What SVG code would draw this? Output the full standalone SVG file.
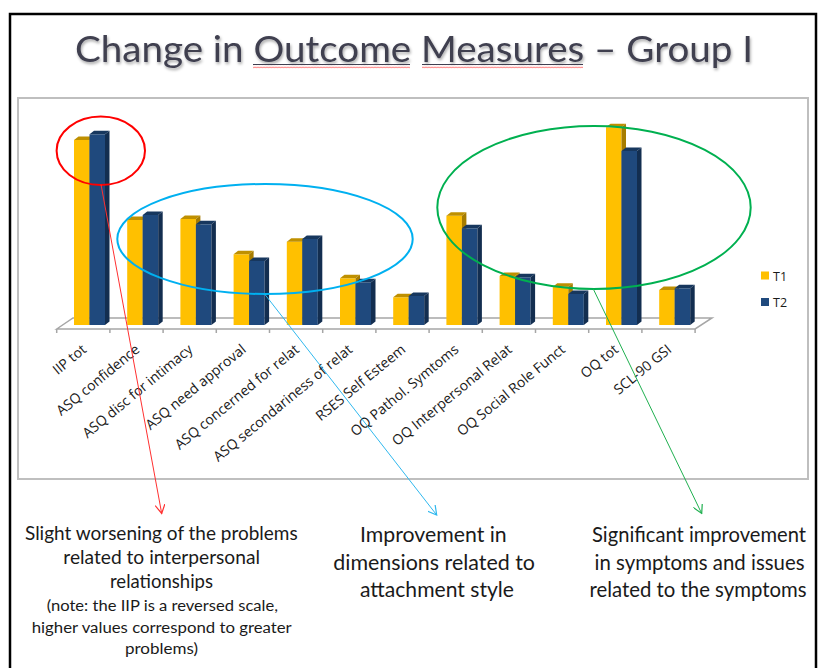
<svg xmlns="http://www.w3.org/2000/svg" width="819" height="668" viewBox="0 0 819 668">
<defs>
<style>
.y{fill:#FFC000}.yt{fill:#BF9000}.ys{fill:#A67C00}
.b{fill:#1F497D}.bt{fill:#17375E}.bs{fill:#132E50}
.lab{font-family:"Open Sans","Liberation Sans",sans-serif;font-size:14px;fill:#1a1a1a;text-anchor:end}
.leg{font-family:"Open Sans","Liberation Sans",sans-serif;font-size:12.5px;fill:#1a1a1a}
.big{font-family:Lato,"Open Sans",sans-serif;font-size:22px;fill:#1a1a1a}
.rt{font-family:Lato,"Open Sans",sans-serif;font-size:20.5px;fill:#1a1a1a}
.mid{font-family:Lato,"Open Sans",sans-serif;font-size:20px;fill:#1a1a1a}
.sm{font-family:Lato,"Open Sans",sans-serif;font-size:15.5px;fill:#1a1a1a}
.floor{fill:none;stroke:#a6a6a6;stroke-width:1.5}
</style>
<filter id="sh" x="-5%" y="-20%" width="110%" height="150%">
<feDropShadow dx="1" dy="2" stdDeviation="1.5" flood-color="#000" flood-opacity="0.35"/>
</filter>
<pattern id="sq" width="3" height="3" patternUnits="userSpaceOnUse">
<path d="M0,2.2 L0.75,0.8 L1.5,2.2 L2.25,0.8 L3,2.2" fill="none" stroke="#ff6a6a" stroke-width="0.7"/>
</pattern>
<marker id="ar" viewBox="0 0 10 10" refX="9" refY="5" markerWidth="10" markerHeight="10" markerUnits="userSpaceOnUse" orient="auto"><path d="M0,0 L9,5 L0,10" fill="none" stroke="#ff3030" stroke-width="1.2"/></marker>
<marker id="ab" viewBox="0 0 10 10" refX="9" refY="5" markerWidth="10" markerHeight="10" markerUnits="userSpaceOnUse" orient="auto"><path d="M0,0 L9,5 L0,10" fill="none" stroke="#30b8ee" stroke-width="1.2"/></marker>
<marker id="ag" viewBox="0 0 10 10" refX="9" refY="5" markerWidth="10" markerHeight="10" markerUnits="userSpaceOnUse" orient="auto"><path d="M0,0 L9,5 L0,10" fill="none" stroke="#20b050" stroke-width="1.2"/></marker>
</defs>
<rect width="819" height="668" fill="#fff"/>
<path d="M10,680 V14 H816 V680" fill="none" stroke="#000" stroke-width="2.5"/>

<g id="title">
<text x="75" y="62" font-family="Lato,'Open Sans',sans-serif" font-size="37" fill="#3f3f50" textLength="678" lengthAdjust="spacingAndGlyphs" filter="url(#sh)">Change in Outcome Measures – Group I</text>
<path d="M253,64.5 H410 M422,64.5 H583" stroke="#3f3f50" stroke-width="1.2"/>
<rect x="253" y="65.5" width="157" height="3" fill="url(#sq)"/>
<rect x="422" y="65.5" width="161" height="3" fill="url(#sq)"/>
</g>

<g id="chart">
<rect x="18" y="98" width="790" height="381" fill="#fff" stroke="#bfbfbf" stroke-width="2"/>
<path class="floor" d="M56.7,329 L73,318 H712 L695.1,329 Z"/>
<path class="floor" d="M56.7,329 v4 M109.9,329 v4 M163.1,329 v4 M216.3,329 v4 M269.5,329 v4 M322.7,329 v4 M375.9,329 v4 M429.1,329 v4 M482.3,329 v4 M535.5,329 v4 M588.7,329 v4 M641.9,329 v4 M695.1,329 v4"/>
</g>

<g id="cat-iip-tot">
<rect class="y" x="74" y="140" width="15.5" height="185"/><path class="yt" d="M74,140 l4.5,-3.5 h15.5 l-4.5,3.5 z"/><path class="ys" d="M89.5,140 l4.5,-3.5 V321.5 l-4.5,3.5 z"/>
<rect class="b" x="89.5" y="134.3" width="15.5" height="190.7"/><path class="bt" d="M89.5,134.3 l4.5,-3.5 h15.5 l-4.5,3.5 z"/><path class="bs" d="M105,134.3 l4.5,-3.5 V321.5 l-4.5,3.5 z"/>
<text class="lab" transform="translate(87.3,351) rotate(-39.5)">IIP tot</text>
</g>
<g id="cat-asq-confidence">
<rect class="y" x="127.2" y="220" width="15.5" height="105"/><path class="yt" d="M127.2,220 l4.5,-3.5 h15.5 l-4.5,3.5 z"/><path class="ys" d="M142.7,220 l4.5,-3.5 V321.5 l-4.5,3.5 z"/>
<rect class="b" x="142.7" y="215" width="15.5" height="110"/><path class="bt" d="M142.7,215 l4.5,-3.5 h15.5 l-4.5,3.5 z"/><path class="bs" d="M158.2,215 l4.5,-3.5 V321.5 l-4.5,3.5 z"/>
<text class="lab" transform="translate(140.5,351) rotate(-39.5)">ASQ confidence</text>
</g>
<g id="cat-asq-disc">
<rect class="y" x="180.4" y="219" width="15.5" height="106"/><path class="yt" d="M180.4,219 l4.5,-3.5 h15.5 l-4.5,3.5 z"/><path class="ys" d="M195.9,219 l4.5,-3.5 V321.5 l-4.5,3.5 z"/>
<rect class="b" x="195.9" y="224.3" width="15.5" height="100.7"/><path class="bt" d="M195.9,224.3 l4.5,-3.5 h15.5 l-4.5,3.5 z"/><path class="bs" d="M211.4,224.3 l4.5,-3.5 V321.5 l-4.5,3.5 z"/>
<text class="lab" transform="translate(193.7,351) rotate(-39.5)">ASQ disc for intimacy</text>
</g>
<g id="cat-asq-need">
<rect class="y" x="233.6" y="254.3" width="15.5" height="70.7"/><path class="yt" d="M233.6,254.3 l4.5,-3.5 h15.5 l-4.5,3.5 z"/><path class="ys" d="M249.1,254.3 l4.5,-3.5 V321.5 l-4.5,3.5 z"/>
<rect class="b" x="249.1" y="261" width="15.5" height="64"/><path class="bt" d="M249.1,261 l4.5,-3.5 h15.5 l-4.5,3.5 z"/><path class="bs" d="M264.6,261 l4.5,-3.5 V321.5 l-4.5,3.5 z"/>
<text class="lab" transform="translate(246.9,351) rotate(-39.5)">ASQ need approval</text>
</g>
<g id="cat-asq-concerned">
<rect class="y" x="286.8" y="241.7" width="15.5" height="83.3"/><path class="yt" d="M286.8,241.7 l4.5,-3.5 h15.5 l-4.5,3.5 z"/><path class="ys" d="M302.3,241.7 l4.5,-3.5 V321.5 l-4.5,3.5 z"/>
<rect class="b" x="302.3" y="239" width="15.5" height="86"/><path class="bt" d="M302.3,239 l4.5,-3.5 h15.5 l-4.5,3.5 z"/><path class="bs" d="M317.8,239 l4.5,-3.5 V321.5 l-4.5,3.5 z"/>
<text class="lab" transform="translate(300.1,351) rotate(-39.5)">ASQ concerned for relat</text>
</g>
<g id="cat-asq-secondariness">
<rect class="y" x="340" y="278.3" width="15.5" height="46.7"/><path class="yt" d="M340,278.3 l4.5,-3.5 h15.5 l-4.5,3.5 z"/><path class="ys" d="M355.5,278.3 l4.5,-3.5 V321.5 l-4.5,3.5 z"/>
<rect class="b" x="355.5" y="282.3" width="15.5" height="42.7"/><path class="bt" d="M355.5,282.3 l4.5,-3.5 h15.5 l-4.5,3.5 z"/><path class="bs" d="M371,282.3 l4.5,-3.5 V321.5 l-4.5,3.5 z"/>
<text class="lab" transform="translate(353.3,351) rotate(-39.5)">ASQ secondariness of relat</text>
</g>
<g id="cat-rses">
<rect class="y" x="393.2" y="297.3" width="15.5" height="27.7"/><path class="yt" d="M393.2,297.3 l4.5,-3.5 h15.5 l-4.5,3.5 z"/><path class="ys" d="M408.7,297.3 l4.5,-3.5 V321.5 l-4.5,3.5 z"/>
<rect class="b" x="408.7" y="296" width="15.5" height="29"/><path class="bt" d="M408.7,296 l4.5,-3.5 h15.5 l-4.5,3.5 z"/><path class="bs" d="M424.2,296 l4.5,-3.5 V321.5 l-4.5,3.5 z"/>
<text class="lab" transform="translate(406.5,351) rotate(-39.5)">RSES Self Esteem</text>
</g>
<g id="cat-oq-pathol">
<rect class="y" x="446.4" y="215.7" width="15.5" height="109.3"/><path class="yt" d="M446.4,215.7 l4.5,-3.5 h15.5 l-4.5,3.5 z"/><path class="ys" d="M461.9,215.7 l4.5,-3.5 V321.5 l-4.5,3.5 z"/>
<rect class="b" x="461.9" y="228.3" width="15.5" height="96.7"/><path class="bt" d="M461.9,228.3 l4.5,-3.5 h15.5 l-4.5,3.5 z"/><path class="bs" d="M477.4,228.3 l4.5,-3.5 V321.5 l-4.5,3.5 z"/>
<text class="lab" transform="translate(459.7,351) rotate(-39.5)">OQ Pathol. Symtoms</text>
</g>
<g id="cat-oq-interpersonal">
<rect class="y" x="499.6" y="276" width="15.5" height="49"/><path class="yt" d="M499.6,276 l4.5,-3.5 h15.5 l-4.5,3.5 z"/><path class="ys" d="M515.1,276 l4.5,-3.5 V321.5 l-4.5,3.5 z"/>
<rect class="b" x="515.1" y="277.3" width="15.5" height="47.7"/><path class="bt" d="M515.1,277.3 l4.5,-3.5 h15.5 l-4.5,3.5 z"/><path class="bs" d="M530.6,277.3 l4.5,-3.5 V321.5 l-4.5,3.5 z"/>
<text class="lab" transform="translate(512.9,351) rotate(-39.5)">OQ Interpersonal Relat</text>
</g>
<g id="cat-oq-social">
<rect class="y" x="552.8" y="286.7" width="15.5" height="38.3"/><path class="yt" d="M552.8,286.7 l4.5,-3.5 h15.5 l-4.5,3.5 z"/><path class="ys" d="M568.3,286.7 l4.5,-3.5 V321.5 l-4.5,3.5 z"/>
<rect class="b" x="568.3" y="294" width="15.5" height="31"/><path class="bt" d="M568.3,294 l4.5,-3.5 h15.5 l-4.5,3.5 z"/><path class="bs" d="M583.8,294 l4.5,-3.5 V321.5 l-4.5,3.5 z"/>
<text class="lab" transform="translate(566.1,351) rotate(-39.5)">OQ Social Role Funct</text>
</g>
<g id="cat-oq-tot">
<rect class="y" x="606" y="127.3" width="15.5" height="197.7"/><path class="yt" d="M606,127.3 l4.5,-3.5 h15.5 l-4.5,3.5 z"/><path class="ys" d="M621.5,127.3 l4.5,-3.5 V321.5 l-4.5,3.5 z"/>
<rect class="b" x="621.5" y="151" width="15.5" height="174"/><path class="bt" d="M621.5,151 l4.5,-3.5 h15.5 l-4.5,3.5 z"/><path class="bs" d="M637,151 l4.5,-3.5 V321.5 l-4.5,3.5 z"/>
<text class="lab" transform="translate(619.3,351) rotate(-39.5)">OQ tot</text>
</g>
<g id="cat-scl90">
<rect class="y" x="659.2" y="290" width="15.5" height="35"/><path class="yt" d="M659.2,290 l4.5,-3.5 h15.5 l-4.5,3.5 z"/><path class="ys" d="M674.7,290 l4.5,-3.5 V321.5 l-4.5,3.5 z"/>
<rect class="b" x="674.7" y="288.3" width="15.5" height="36.7"/><path class="bt" d="M674.7,288.3 l4.5,-3.5 h15.5 l-4.5,3.5 z"/><path class="bs" d="M690.2,288.3 l4.5,-3.5 V321.5 l-4.5,3.5 z"/>
<text class="lab" transform="translate(672.5,351) rotate(-39.5)">SCL-90 GSI</text>
</g>

<g id="legend">
<rect class="y" x="761" y="271.5" width="8" height="8"/>
<text class="leg" x="773" y="280.5">T1</text>
<rect class="b" x="761" y="298" width="8" height="8"/>
<text class="leg" x="773" y="306.5">T2</text>
</g>

<g id="highlights" fill="none" stroke-width="2">
<ellipse id="circle-red" cx="100.8" cy="150.8" rx="44.2" ry="34.2" stroke="#ff0000"/>
<ellipse id="circle-blue" cx="265" cy="239" rx="147.7" ry="55" stroke="#00b0f0"/>
<ellipse id="circle-green" cx="594" cy="207.5" rx="156.7" ry="81.5" stroke="#00b050"/>
</g>

<g id="connectors" fill="none" stroke-width="1">
<line x1="101" y1="184.5" x2="161.7" y2="513.5" stroke="#ff3030" marker-end="url(#ar)"/>
<line x1="265" y1="294.5" x2="436.7" y2="515" stroke="#30b8ee" marker-end="url(#ab)"/>
<line x1="593.3" y1="289" x2="701.7" y2="513.5" stroke="#20b050" marker-end="url(#ag)"/>
</g>

<g id="note-left">
<text class="mid" x="25" y="539.5" textLength="272.7" lengthAdjust="spacingAndGlyphs">Slight worsening of the problems</text>
<text class="mid" x="63.3" y="564" textLength="196.7" lengthAdjust="spacingAndGlyphs">related to interpersonal</text>
<text class="mid" x="110" y="588" textLength="103" lengthAdjust="spacingAndGlyphs">relationships</text>
<text class="sm" x="46.7" y="611" textLength="231.3" lengthAdjust="spacingAndGlyphs">(note: the IIP is a reversed scale,</text>
<text class="sm" x="31.7" y="632.7" textLength="260" lengthAdjust="spacingAndGlyphs">higher values correspond to greater</text>
<text class="sm" x="125" y="654" textLength="73" lengthAdjust="spacingAndGlyphs">problems)</text>
</g>
<g id="note-middle">
<text class="big" x="360" y="541.7" textLength="146.7" lengthAdjust="spacingAndGlyphs">Improvement in</text>
<text class="big" x="333.3" y="569.5" textLength="201.7" lengthAdjust="spacingAndGlyphs">dimensions related to</text>
<text class="big" x="360" y="597" textLength="154" lengthAdjust="spacingAndGlyphs">attachment style</text>
</g>
<g id="note-right">
<text class="rt" x="592" y="541.7" textLength="214" lengthAdjust="spacingAndGlyphs">Significant improvement</text>
<text class="rt" x="594.5" y="569.5" textLength="210" lengthAdjust="spacingAndGlyphs">in symptoms and issues</text>
<text class="rt" x="589.5" y="597" textLength="217" lengthAdjust="spacingAndGlyphs">related to the symptoms</text>
</g>
</svg>
